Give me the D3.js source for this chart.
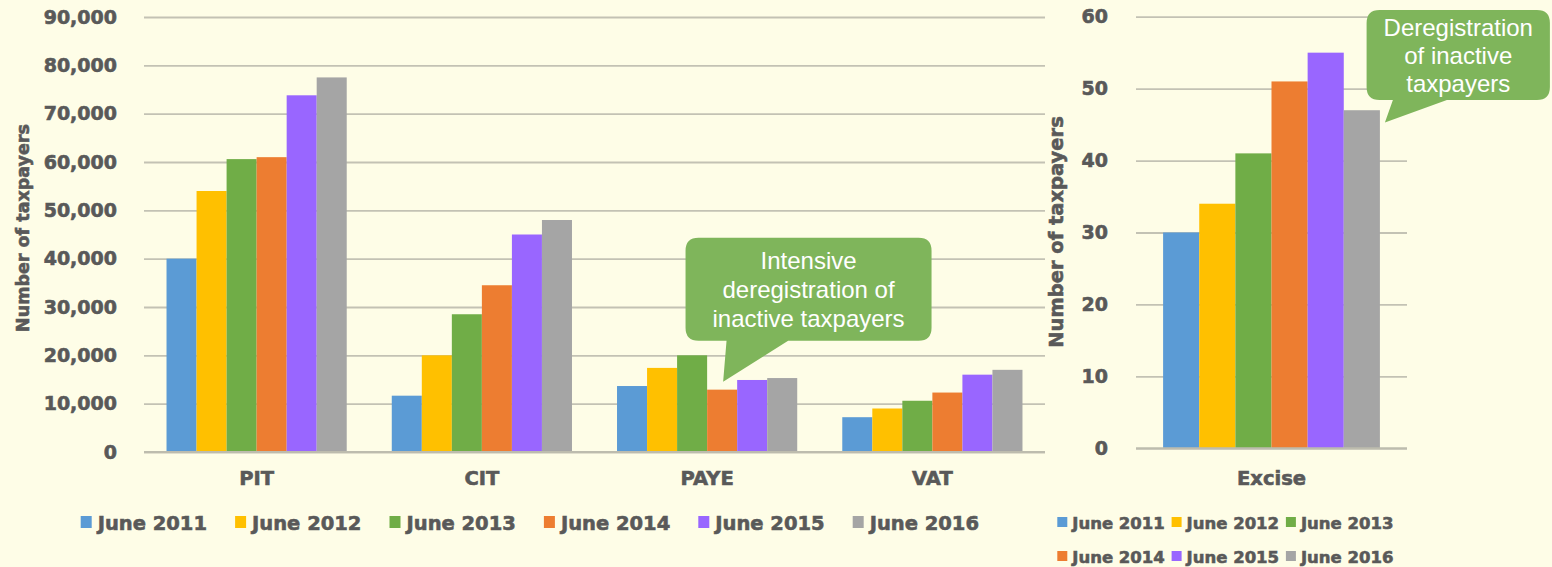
<!DOCTYPE html>
<html>
<head>
<meta charset="utf-8">
<script src="https://cdn.jsdelivr.net/npm/d3@7"></script>
<style>
  html, body { margin: 0; padding: 0; background: #FEFDE7; }
  svg { display: block; }
  .tick text, .heavy { font-family: "DejaVu Sans", sans-serif; font-weight: bold; fill: #595959;
    stroke: #595959; stroke-width: 0.6px; paint-order: stroke; }
</style>
</head>
<body>
<svg id="chart" width="1552" height="567"></svg>
<script>
// ---- data ----
const seriesNames = ["June 2011", "June 2012", "June 2013", "June 2014", "June 2015", "June 2016"];
const seriesColors = ["#5B9BD5", "#FFC000", "#70AD47", "#ED7D31", "#9966FF", "#A5A5A5"];
const leftCategories = ["PIT", "CIT", "PAYE", "VAT"];
const pitValues  = [40000, 54000, 60600, 61000, 73800, 77500];
const citValues  = [11650, 20000, 28500, 34500, 45000, 48000];
const payeValues = [13650, 17400, 20000, 12900, 14900, 15300];
const vatValues  = [7200, 9000, 10600, 12300, 16000, 17000];
const rightCategories = ["Excise"];
const exciseValues = [30, 34, 41, 51, 55, 47];
const leftTicks = [0, 10000, 20000, 30000, 40000, 50000, 60000, 70000, 80000, 90000];
const rightTicks = [0, 10, 20, 30, 40, 50, 60];
const yTitle = "Number of taxpayers";
const calloutLeftText = ["Intensive", "deregistration of", "inactive taxpayers"];
const calloutRightText = ["Deregistration", "of inactive", "taxpayers"];

const leftData = [pitValues, citValues, payeValues, vatValues];
const rightData = [exciseValues];

const svg = d3.select("#chart");
const gridColor = "#C3C2B4";
const calloutColor = "#7FB55B";

svg.append("rect").attr("width", 1552).attr("height", 567).attr("fill", "#FEFDE7");

function drawPanel(opts) {
  const x = d3.scaleBand().domain(opts.categories).range([opts.x0, opts.x1])
    .paddingInner(0.2).paddingOuter(0.1);
  const xs = d3.scaleBand().domain(d3.range(seriesNames.length)).range([0, x.bandwidth()]);
  const y = d3.scaleLinear().domain([0, opts.max]).range([opts.y0, opts.y1]);

  const yAxis = d3.axisLeft(y).tickValues(opts.ticks).tickFormat(d3.format(","))
    .tickSize(-(opts.x1 - opts.x0)).tickPadding(opts.tickPad);
  const gy = svg.append("g").attr("transform", `translate(${opts.x0},0)`).call(yAxis);
  gy.select(".domain").remove();
  gy.selectAll(".tick line").attr("stroke", gridColor).attr("stroke-width", 1.8);
  gy.selectAll(".tick text").style("font-size", "19px");

  const groups = svg.append("g").selectAll("g").data(opts.data).join("g")
    .attr("transform", (d, i) => `translate(${x(opts.categories[i])},0)`);
  groups.selectAll("rect").data(d => d).join("rect")
    .attr("x", (d, j) => xs(j))
    .attr("width", xs.bandwidth())
    .attr("y", d => y(d))
    .attr("height", d => y(0) - y(d))
    .attr("fill", (d, j) => seriesColors[j]);

  // baseline
  svg.append("line").attr("x1", opts.x0).attr("x2", opts.x1)
    .attr("y1", y(0)).attr("y2", y(0)).attr("stroke", "#BDBCAE").attr("stroke-width", 2);

  const xAxis = d3.axisBottom(x).tickSize(0).tickPadding(opts.catPad);
  const gx = svg.append("g").attr("transform", `translate(0,${y(0)})`).call(xAxis);
  gx.select(".domain").remove();
  gx.selectAll(".tick text").style("font-size", "19.5px");

  svg.append("text").attr("class", "heavy")
    .attr("transform", `translate(${opts.titleX},${opts.titleY}) rotate(-90)`)
    .attr("text-anchor", "middle").attr("dominant-baseline", "central")
    .attr("font-size", opts.titleSize).text(yTitle);

  return { x, xs, y };
}

const L = drawPanel({ categories: leftCategories, data: leftData, x0: 144, x1: 1045,
  y0: 452, y1: 17, max: 90000, ticks: leftTicks, tickPad: 27, catPad: 19,
  titleX: 23, titleY: 228, titleSize: "17.5px" });
const R = drawPanel({ categories: rightCategories, data: rightData, x0: 1136, x1: 1407,
  y0: 448.3, y1: 16.7, max: 60, ticks: rightTicks, tickPad: 28, catPad: 22.5,
  titleX: 1056, titleY: 232, titleSize: "19.5px" });

// ---- legends ----
function legend(items, positions, fontSize, sw, sh, gap) {
  const g = svg.append("g");
  items.forEach((name, i) => {
    const p = positions[i];
    g.append("rect").attr("x", p[0]).attr("y", p[1] - sh / 2 - 1).attr("width", sw).attr("height", sh)
      .attr("fill", seriesColors[i]);
    g.append("text").attr("class", "heavy").attr("x", p[0] + sw + gap).attr("y", p[1])
      .attr("dominant-baseline", "central")
      .attr("font-size", fontSize + "px").text(name);
  });
}
legend(seriesNames, seriesNames.map((d, i) => [80.7 + i * 154.4, 523]), 19.5, 11, 12, 6);
legend(seriesNames, seriesNames.map((d, i) => [1057.3 + (i % 3) * 114.3, i < 3 ? 523 : 557]), 16.5, 10, 10, 5);

// ---- callouts ----
function callout(box, base, tip, lines, fontSize, lineGap, firstBaseline) {
  const r = 13;
  const [bx0, by0, bx1, by1] = box;
  const path = [
    `M${bx0 + r},${by0}`,
    `L${bx1 - r},${by0}`, `Q${bx1},${by0} ${bx1},${by0 + r}`,
    `L${bx1},${by1 - r}`, `Q${bx1},${by1} ${bx1 - r},${by1}`,
    `L${base[1]},${by1}`, `L${tip[0]},${tip[1]}`, `L${base[0]},${by1}`,
    `L${bx0 + r},${by1}`, `Q${bx0},${by1} ${bx0},${by1 - r}`,
    `L${bx0},${by0 + r}`, `Q${bx0},${by0} ${bx0 + r},${by0}`, "Z"
  ].join(" ");
  svg.append("path").attr("d", path).attr("fill", calloutColor);
  const cx = (bx0 + bx1) / 2;
  lines.forEach((t, i) => {
    svg.append("text").attr("x", cx).attr("y", firstBaseline + i * lineGap)
      .attr("text-anchor", "middle")
      .attr("font-family", "Liberation Sans, Arial, sans-serif")
      .attr("font-size", fontSize + "px").attr("fill", "#FFFFFF").text(t);
  });
}

// anchored on PAYE June 2014 bar
{
  const bx = L.x("PAYE") + L.xs(3) + L.xs.bandwidth() / 2;
  const by = L.y(payeValues[3]);
  const tip = [bx + 1, by - 8];
  const box = [tip[0] - 37.6, tip[1] - 144, tip[0] + 208.4, tip[1] - 41];
  callout(box, [tip[0] + 3.4, tip[0] + 65], tip, calloutLeftText, 24, 29.2, box[1] + 31);
}
// anchored on Excise June 2016 bar
{
  const bx = R.x("Excise") + R.xs(5) + R.xs.bandwidth();
  const by = R.y(exciseValues[5]);
  const tip = [bx + 5, by + 12.4];
  const box = [tip[0] - 18.3, 10, Math.min(1551, tip[0] + 165), 100];
  callout(box, [tip[0] + 8, tip[0] + 62], tip, calloutRightText, 24, 28.3, 35.5);
}
</script>
</body>
</html>
